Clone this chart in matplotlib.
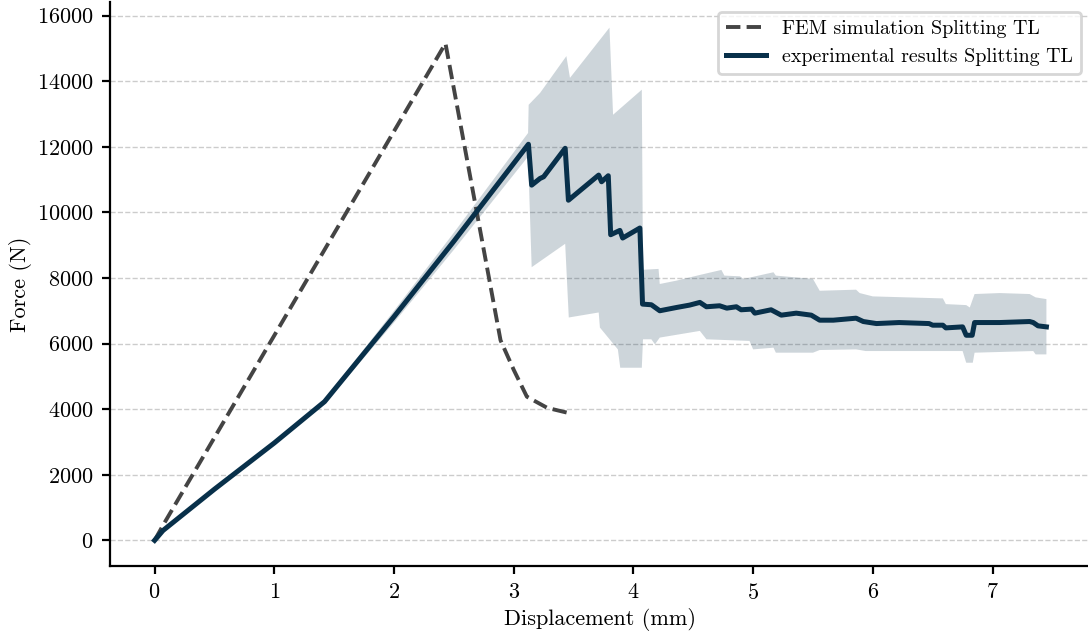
import matplotlib
matplotlib.use("Agg")
import matplotlib.pyplot as plt

plt.rcParams["font.family"] = "serif"
plt.rcParams["font.serif"] = ["cmr10", "DejaVu Serif"]
plt.rcParams["mathtext.fontset"] = "cm"
plt.rcParams["axes.unicode_minus"] = False
plt.rcParams["axes.formatter.use_mathtext"] = True
plt.rcParams["font.size"] = 8

# FEM simulation curve
fem_x = [0.0, 0.08, 2.43, 2.89, 3.0, 3.11, 3.28, 3.45]
fem_y = [0, 520, 15150, 6100, 5200, 4380, 4040, 3890]

# experimental mean curve
exp_x = [0.0, 0.07, 0.5, 1.0, 1.42, 2.0, 2.5, 3.123, 3.15, 3.22, 3.25, 3.43, 3.457,
         3.71, 3.734, 3.79, 3.81, 3.887, 3.91, 4.054, 4.076, 4.15, 4.22, 4.36, 4.47,
         4.555, 4.61, 4.72, 4.78, 4.86, 4.90, 4.987, 5.014, 5.15, 5.235, 5.36, 5.486,
         5.556, 5.67, 5.86, 5.92, 6.03, 6.22, 6.47, 6.50, 6.585, 6.61, 6.75, 6.78,
         6.83, 6.85, 7.06, 7.31, 7.34, 7.38, 7.45]
exp_y = [0, 300, 1560, 2970, 4230, 6820, 9120, 12077, 10830, 11034, 11085, 11954, 10370,
         11137, 10933, 11117, 9318, 9450, 9217, 9523, 7203, 7183, 7000, 7100, 7173,
         7255, 7122, 7152, 7080, 7122, 7030, 7050, 6927, 7030, 6866, 6927, 6866,
         6713, 6713, 6774, 6672, 6610, 6641, 6610, 6560, 6560, 6478, 6509, 6253,
         6253, 6641, 6641, 6672, 6641, 6540, 6509]

# spread of the experiments (upper and lower envelope)
up_x = [0.0, 0.07, 1.0, 1.42, 2.0, 2.5, 3.12, 3.125, 3.22, 3.44, 3.47, 3.80, 3.83,
        4.07, 4.08, 4.21, 4.22, 4.36, 4.555, 4.735, 4.76, 4.89, 4.92, 5.17, 5.19,
        5.50, 5.556, 5.86, 5.89, 6.00, 6.585, 6.61, 6.78, 6.81, 6.85, 7.06, 7.31,
        7.36, 7.45]
up_y = [0, 320, 3020, 4300, 7000, 9380, 12420, 13280, 13640, 14764, 14100, 15632, 12976,
        13740, 8250, 8276, 7816, 7919, 8092, 8245, 8072, 8051, 7970, 8174, 8072,
        7970, 7610, 7643, 7540, 7438, 7377, 7203, 7173, 7100, 7510, 7540, 7510,
        7408, 7356]
lo_x = [0.0, 0.07, 1.0, 1.42, 2.0, 2.5, 3.12, 3.15, 3.43, 3.46, 3.71, 3.72, 3.87,
        3.89, 4.07, 4.08, 4.15, 4.18, 4.22, 4.555, 4.61, 4.97, 5.00, 5.17, 5.19,
        5.50, 5.556, 5.86, 5.94, 6.75, 6.78, 6.835, 6.85, 7.34, 7.36, 7.45]
lo_y = [0, 280, 2920, 4160, 6640, 8860, 11700, 8328, 9042, 6795, 6948, 6489, 5823,
        5263, 5263, 6130, 6130, 5977, 6182, 6386, 6130, 6080, 5823, 5875, 5722,
        5722, 5803, 5823, 5772, 5772, 5416, 5416, 5722, 5772, 5670, 5670]

navy = "#08304a"

fig = plt.figure(figsize=(5.44, 3.19), dpi=200)
ax = fig.add_axes([110 / 1088, 72 / 638, 981 / 1088, 564 / 638])

ax.fill(up_x + lo_x[::-1], up_y + lo_y[::-1], color=navy, alpha=0.2, lw=0)
ax.plot(fem_x, fem_y, "--", color="#444444", lw=1.4, label="FEM simulation Splitting TL")
ax.plot(exp_x, exp_y, "-", color=navy, lw=1.8, label="experimental results Splitting TL")

ax.set_yticks(range(0, 16001, 2000))
ax.set_xticks(range(0, 8))
ax.tick_params(length=3, pad=3)
ax.yaxis.grid(True, ls="--", color="#cccccc", lw=0.5)
ax.set_axisbelow(True)
for s in ["top", "right"]:
    ax.spines[s].set_visible(False)
ax.set_xlabel("Displacement (mm)", labelpad=2)
ax.set_ylabel("Force (N)", labelpad=1.5)
ax.legend(loc="upper right", fancybox=True, edgecolor="#cccccc", fontsize=7.2)

fig.savefig("out.png", dpi=200)
